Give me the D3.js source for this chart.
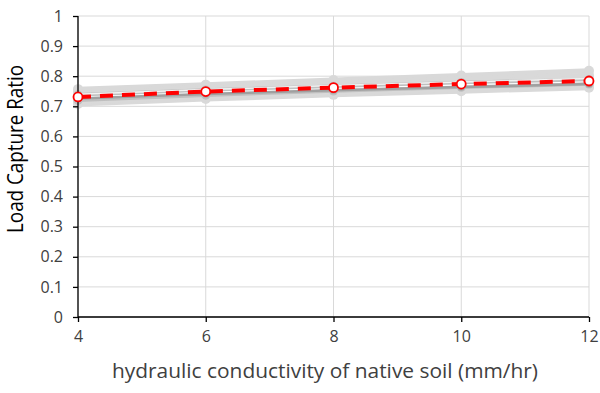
<!DOCTYPE html>
<html><head><meta charset="utf-8">
<script src="https://cdn.jsdelivr.net/npm/d3@7"></script>
<style>body{margin:0;background:#fff}svg{display:block}</style>
</head><body><div id="chart"></div>
<script>
const xValues = [4, 6, 8, 10, 12];
const yTicks = [0, 0.1, 0.2, 0.3, 0.4, 0.5, 0.6, 0.7, 0.8, 0.9, 1];
const grayLight = [
  [0.757, 0.772, 0.787, 0.802, 0.818],
  [0.748, 0.764, 0.778, 0.791, 0.803],
  [0.708, 0.724, 0.738, 0.750, 0.762],
  [0.714, 0.731, 0.745, 0.757, 0.768],
  [0.742, 0.758, 0.771, 0.783, 0.794]
];
const grayMid = [
  [0.738, 0.754, 0.767, 0.779, 0.789],
  [0.720, 0.737, 0.751, 0.763, 0.774]
];
const grayDark = [
  [0.726, 0.741, 0.753, 0.764, 0.774]
];
const grayWhite = [
  [0.740, 0.756, 0.769, 0.781, 0.792]
];
const meanValues = [0.731, 0.749, 0.762, 0.774, 0.784];

const W = 600, H = 393;
const m = {left: 78, right: 11, top: 16, bottom: 76};
const svg = d3.select("#chart").append("svg").attr("width", W).attr("height", H);
const x = d3.scaleLinear().domain([4, 12]).range([m.left, W - m.right]);
const y = d3.scaleLinear().domain([0, 1]).range([H - m.bottom, m.top]);
const font = "'Open Sans', 'Noto Sans', sans-serif";

// grid
svg.append("g").selectAll("line.h").data(yTicks).join("line")
  .attr("x1", m.left).attr("x2", W - m.right)
  .attr("y1", d => y(d)).attr("y2", d => y(d))
  .attr("stroke", "#d9d9d9").attr("stroke-width", 1);
svg.append("g").selectAll("line.v").data(xValues).join("line")
  .attr("x1", d => x(d)).attr("x2", d => x(d))
  .attr("y1", m.top).attr("y2", H - m.bottom)
  .attr("stroke", "#d9d9d9").attr("stroke-width", 1);

const line = d3.line().x((d, i) => x(xValues[i])).y(d => y(d));

function drawSeries(arr, color, width, r) {
  const g = svg.append("g");
  arr.forEach(s => {
    g.append("path").datum(s).attr("d", line).attr("fill", "none")
      .attr("stroke", color).attr("stroke-width", width).attr("stroke-linecap", "round");
    if (r > 0) g.selectAll(null).data(s).join("circle")
      .attr("cx", (d, i) => x(xValues[i])).attr("cy", d => y(d)).attr("r", r)
      .attr("fill", color);
  });
}
drawSeries(grayLight, "#d9d9d9", 5, 5);
drawSeries(grayMid, "#bfbfbf", 3.5, 4.5);
drawSeries(grayDark, "#a0a0a0", 2.5, 3.5);
drawSeries(grayWhite, "#f2f2f2", 1.5, 0);

// axes
const yAxis = d3.axisLeft(y).tickValues(yTicks).tickSize(5).tickFormat(d3.format("~g"));
const gy = svg.append("g").attr("transform", `translate(${m.left},0)`).call(yAxis);
const xAxis = d3.axisBottom(x).tickValues(xValues).tickSize(5).tickFormat(d3.format("d"));
const gx = svg.append("g").attr("transform", `translate(0,${H - m.bottom})`).call(xAxis);
[gy, gx].forEach(g => {
  g.select(".domain").attr("stroke", "#000").attr("stroke-width", 1.3);
  g.selectAll(".tick line").attr("stroke", "#000").attr("stroke-width", 1.3);
  g.selectAll("text").attr("font-family", font).attr("font-size", 16).attr("fill", "#404040");
});
gy.selectAll("text").attr("x", -15);
gx.selectAll("text").attr("y", 14);
gy.select(".domain").attr("d", `M0,${y(0)}V${y(1)}`);
gx.select(".domain").attr("d", `M${x(4)},0H${x(12)}`);

// mean line
svg.append("path").datum(meanValues).attr("d", line).attr("fill", "none")
  .attr("stroke", "#ff0000").attr("stroke-width", 4).attr("stroke-dasharray", "13,9");
svg.append("g").selectAll("circle").data(meanValues).join("circle")
  .attr("cx", (d, i) => x(xValues[i])).attr("cy", d => y(d)).attr("r", 4.5)
  .attr("fill", "#fff").attr("stroke", "#ff0000").attr("stroke-width", 1.8);

// titles
svg.append("text").attr("x", 325).attr("y", 378)
  .attr("text-anchor", "middle").attr("font-family", font).attr("font-size", 20)
  .attr("textLength", 426).attr("lengthAdjust", "spacingAndGlyphs")
  .attr("fill", "#404040").text("hydraulic conductivity of native soil (mm/hr)");
svg.append("text").attr("transform", `translate(23,149) rotate(-90)`)
  .attr("text-anchor", "middle").attr("font-family", font).attr("font-size", 21)
  .attr("textLength", 168).attr("lengthAdjust", "spacingAndGlyphs")
  .attr("fill", "#000").text("Load Capture Ratio");
</script></body></html>
